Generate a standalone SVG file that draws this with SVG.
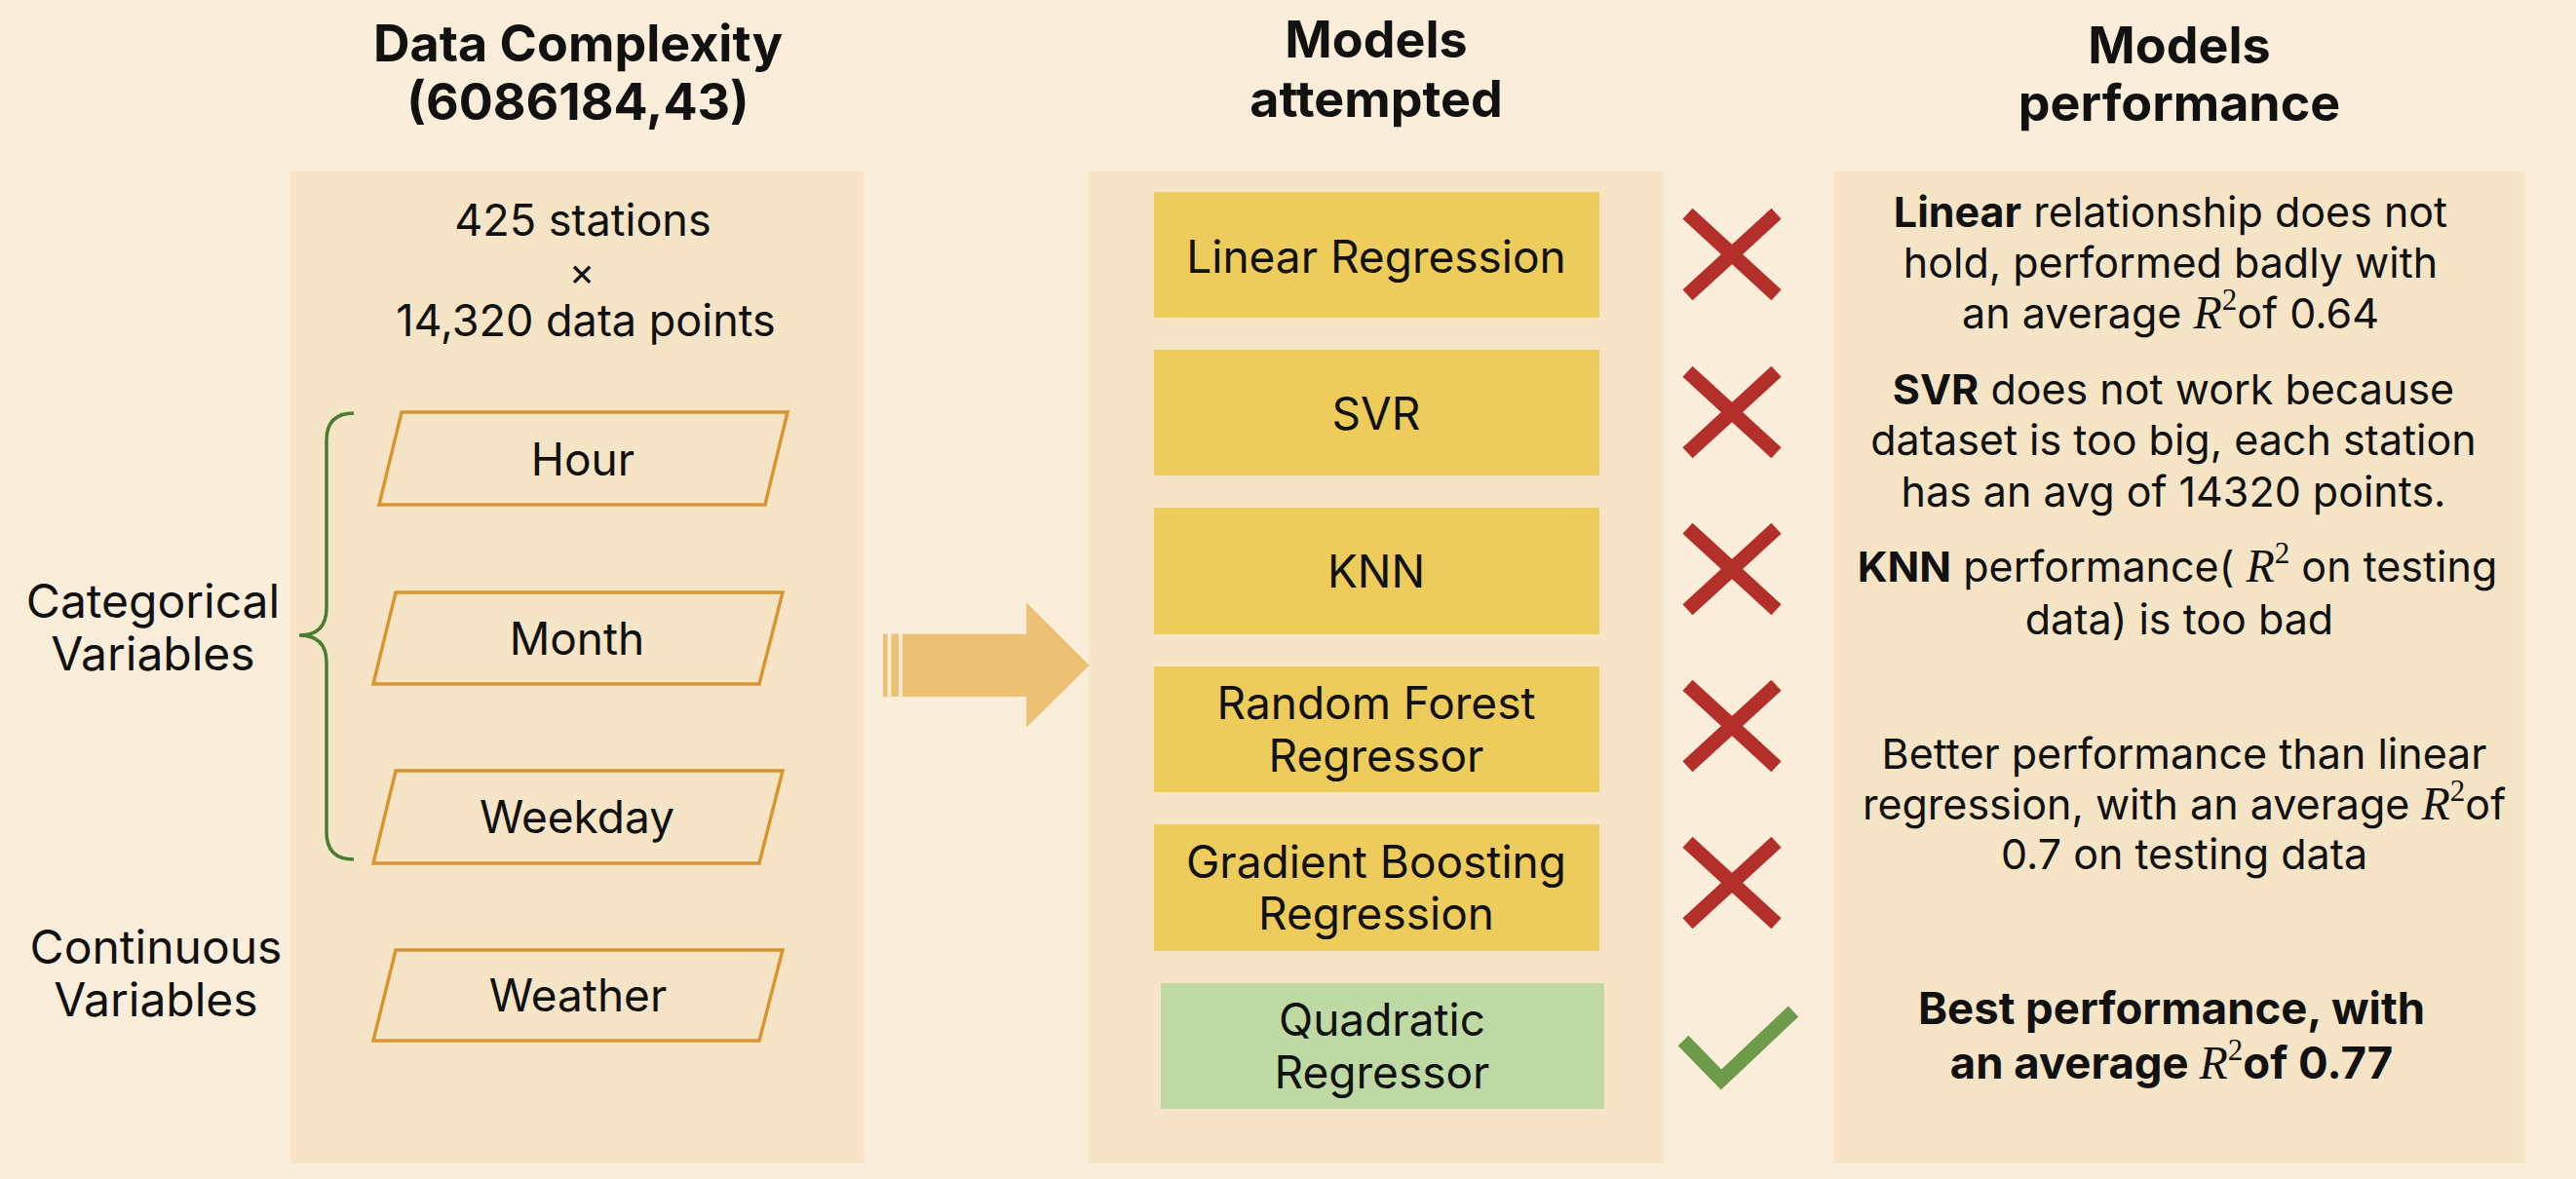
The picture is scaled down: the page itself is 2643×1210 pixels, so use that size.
<svg xmlns="http://www.w3.org/2000/svg" xmlns:xlink="http://www.w3.org/1999/xlink" width="2643" height="1210" viewBox="0 0 2643 1210">
<defs>
<style>
.t{font-family:Inter,"Liberation Sans",sans-serif;fill:#111;text-anchor:middle}
.title{font-weight:700;font-size:52px}
.box{font-size:46px}
.body{font-size:43px}
.best{font-size:45.5px;font-weight:700}
.lbl{font-size:48px}
.b{font-weight:700}
.r{font-family:"Liberation Serif",serif;font-style:italic;font-size:48px;font-weight:400}
.sup{font-family:"Liberation Serif",serif;font-style:normal;font-size:31px;font-weight:400}
.panel{fill:#F6E4C6}
.ybox{fill:#EDCC5B}
.gbox{fill:#BED9A3}
.para{fill:none;stroke:#D9952F;stroke-width:3.5}
.xm{fill:none;stroke:#B3302A;stroke-width:15;stroke-linecap:butt}
</style>
<path id="xmark" d="M-45.5 -41.7L45.5 41.7M45.5 -41.7L-45.5 41.7"/>
</defs>
<rect width="2643" height="1210" fill="#FAEDD9"/>

<g id="col1-title">
<text class="t title" x="593" y="63">Data Complexity</text>
<text class="t title" x="593" y="123">(6086184,43)</text>
</g>
<g id="col2-title">
<text class="t title" x="1412" y="59">Models</text>
<text class="t title" x="1412" y="120">attempted</text>
</g>
<g id="col3-title">
<text class="t title" x="2236" y="65">Models</text>
<text class="t title" x="2236" y="124">performance</text>
</g>

<g id="panel-data">
<rect class="panel" x="298" y="176" width="589" height="1018"/>
<text class="t box" x="598" y="242" style="font-size:45px">425 stations</text>
<text class="t box" x="597" y="293" style="font-size:40px">×</text>
<text class="t box" x="601" y="345" style="font-size:45px">14,320 data points</text>
</g>

<g id="panel-models">
<rect class="panel" x="1117" y="176" width="590" height="1018"/>
</g>

<g id="panel-performance">
<rect class="panel" x="1881" y="176" width="710" height="1018"/>
</g>

<g id="label-categorical">
<text class="t lbl" x="157" y="634">Categorical</text>
<text class="t lbl" x="157" y="688">Variables</text>
</g>
<g id="label-continuous">
<text class="t lbl" x="160" y="989">Continuous</text>
<text class="t lbl" x="160" y="1043">Variables</text>
</g>

<g id="bracket">
<path d="M363 424Q335 424 335 452L335 624Q335 652 307 652Q335 652 335 680L335 854Q335 882 363 882" fill="none" stroke="#4A7D32" stroke-width="3.5"/>
</g>

<g id="var-hour">
<polygon class="para" points="412,423 808,423 785,518 389,518"/>
<text class="t box" x="598" y="488">Hour</text>
</g>
<g id="var-month">
<polygon class="para" points="406,608 803,608 779,702 383,702"/>
<text class="t box" x="592" y="672">Month</text>
</g>
<g id="var-weekday">
<polygon class="para" points="406,791 803,791 779,886 383,886"/>
<text class="t box" x="592" y="855">Weekday</text>
</g>
<g id="var-weather">
<polygon class="para" points="406,975 803,975 779,1068 383,1068"/>
<text class="t box" x="593" y="1038">Weather</text>
</g>

<g id="model-linear">
<rect class="ybox" x="1184" y="197" width="457" height="129"/>
<text class="t box" x="1412" y="280">Linear Regression</text>
</g>
<g id="model-svr">
<rect class="ybox" x="1184" y="359" width="457" height="129"/>
<text class="t box" x="1412" y="441">SVR</text>
</g>
<g id="model-knn">
<rect class="ybox" x="1184" y="521" width="457" height="130"/>
<text class="t box" x="1412" y="603">KNN</text>
</g>
<g id="model-rf">
<rect class="ybox" x="1184" y="684" width="457" height="129"/>
<text class="t box" x="1412" y="738">Random Forest</text>
<text class="t box" x="1412" y="792">Regressor</text>
</g>
<g id="model-gb">
<rect class="ybox" x="1184" y="846" width="457" height="130"/>
<text class="t box" x="1412" y="901">Gradient Boosting</text>
<text class="t box" x="1412" y="954">Regression</text>
</g>
<g id="model-quadratic">
<rect class="gbox" x="1191" y="1009" width="455" height="129"/>
<text class="t box" x="1418" y="1063">Quadratic</text>
<text class="t box" x="1418" y="1117">Regressor</text>
</g>

<g id="mark-linear"><use xlink:href="#xmark" class="xm" x="1777" y="261"/></g>
<g id="mark-svr"><use xlink:href="#xmark" class="xm" x="1777" y="423"/></g>
<g id="mark-knn"><use xlink:href="#xmark" class="xm" x="1777" y="584"/></g>
<g id="mark-rf"><use xlink:href="#xmark" class="xm" x="1777" y="745"/></g>
<g id="mark-gb"><use xlink:href="#xmark" class="xm" x="1777" y="906"/></g>
<g id="mark-quadratic"><polyline points="1727,1068 1766,1108 1840,1038" fill="none" stroke="#6E9B4A" stroke-width="15" stroke-linejoin="miter"/></g>

<g id="perf-linear">
<text class="t body" x="2227" y="233"><tspan class="b">Linear</tspan> relationship does not</text>
<text class="t body" x="2227" y="285">hold, performed badly with</text>
<text class="t body" x="2227" y="337">an average <tspan class="r">R</tspan><tspan class="sup" dy="-19">2</tspan><tspan dy="19">of 0.64</tspan></text>
</g>
<g id="perf-svr">
<text class="t body" x="2230" y="415"><tspan class="b">SVR</tspan> does not work because</text>
<text class="t body" x="2230" y="467">dataset is too big, each station</text>
<text class="t body" x="2230" y="520">has an avg of 14320 points.</text>
</g>
<g id="perf-knn">
<text class="t body" x="2234" y="597"><tspan class="b">KNN</tspan> performance( <tspan class="r">R</tspan><tspan class="sup" dy="-19">2</tspan><tspan dy="19"> on testing</tspan></text>
<text class="t body" x="2236" y="651">data) is too bad</text>
</g>
<g id="perf-rf">
<text class="t body" x="2241" y="789">Better performance than linear</text>
<text class="t body" x="2241" y="841">regression, with an average <tspan class="r">R</tspan><tspan class="sup" dy="-19">2</tspan><tspan dy="19">of</tspan></text>
<text class="t body" x="2241" y="892">0.7 on testing data</text>
</g>
<g id="perf-quadratic">
<text class="t best" x="2228" y="1051">Best performance, with</text>
<text class="t best" x="2228" y="1107">an average <tspan class="r">R</tspan><tspan class="sup" dy="-19">2</tspan><tspan dy="19">of 0.77</tspan></text>
</g>

<g id="connectors">
<g id="arrow-data-to-models" fill="#EDC174">
<rect x="906" y="650.7" width="4.7" height="64.3"/>
<rect x="914.3" y="650.7" width="8" height="64.3"/>
<path d="M926 650.7H1053V618.3L1117.7 682.7L1053 746.7V715H926Z"/>
</g>
</g>
</svg>
